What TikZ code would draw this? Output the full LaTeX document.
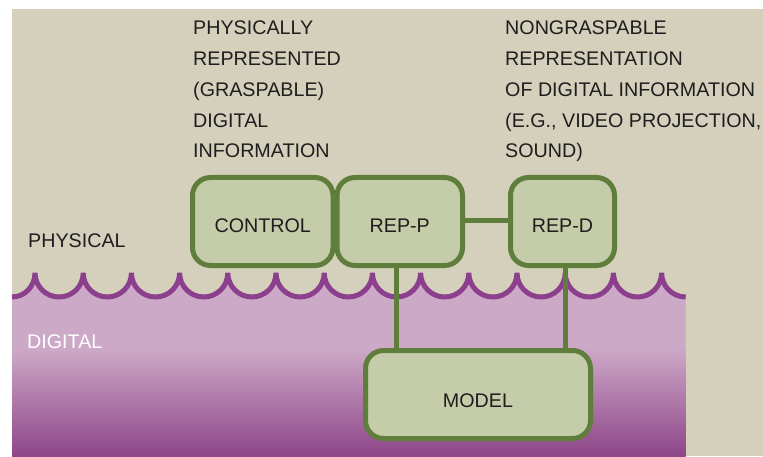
\documentclass[tikz,border=0pt]{standalone}
\usepackage{fontspec}
\setmainfont{Liberation Sans}

\definecolor{sand}{HTML}{D5D0BC}
\definecolor{sage}{HTML}{C5CCA9}
\definecolor{leaf}{HTML}{5F7D3B}
\definecolor{plum}{HTML}{8B3F8C}
\definecolor{ptop}{HTML}{CDA9C8}
\definecolor{pmid}{HTML}{B387AC}
\definecolor{pbot}{HTML}{8E4689}
\definecolor{ink}{HTML}{1E1E1E}

\begin{document}
\begin{tikzpicture}[x=1pt,y=1pt,
  lbl/.style={font=\fontsize{19.7}{30.75}\selectfont, text=ink, inner sep=0pt},
  block/.style={draw=leaf, fill=sage, line width=5pt, rounded corners=18pt,
    inner sep=0pt, minimum height=88pt, text=ink,
    font=\fontsize{19.7}{23}\selectfont, text height=21pt, text depth=0pt},
  link/.style={draw=leaf, line width=5pt},
  wave/.style={draw=plum, line width=5pt, line join=bevel},
  scallop/.style={start angle=180, end angle=270, radius=24.1},
  rise/.style={start angle=270, end angle=360, radius=24.1}]

% page and sand backdrop
\fill[white] (0,0) rectangle (763,456);
\useasboundingbox (0,0) rectangle (763,456);
\fill[sand] (12,0) rectangle (763,447);

% digital layer below the scalloped surface
\fill[ptop] (12,0) -- (12,159)
  arc[start angle=270, end angle=360, x radius=23, y radius=24.1]
  \foreach \k in {1,...,13}{ arc[scallop] arc[rise] }
  arc[scallop] -- (685.7,0) -- cycle;
\shade[bottom color=pbot, middle color=pmid, top color=ptop]
  (12,0) rectangle (685.7,108);

% scalloped boundary line
\draw[wave] (12,159)
  arc[start angle=270, end angle=360, x radius=23, y radius=24.1]
  \foreach \k in {1,...,13}{ arc[scallop] arc[rise] }
  arc[scallop];

% layer names
\node[lbl, anchor=base west] (physical) at (28,209) {PHYSICAL};
\node[lbl, anchor=base west, text=white] (digital) at (27,108) {DIGITAL};

% captions above the blocks
\node[lbl, anchor=north west, align=left] (graspable) at (193,435)
  {PHYSICALLY\\REPRESENTED\\(GRASPABLE)\\DIGITAL\\INFORMATION};
\node[lbl, anchor=north west, align=left] (nongraspable) at (505,435)
  {NONGRASPABLE\\REPRESENTATION\\OF DIGITAL INFORMATION\\(E.G., VIDEO PROJECTION,\\SOUND)};

% blocks
\node[block, minimum width=140.5pt] (control) at (262.75,234.5) {CONTROL};
\node[block, minimum width=125.5pt] (repp) at (399.75,234.5) {REP-P};
\node[block, minimum width=104pt] (repd) at (562.5,234.5) {REP-D};
\node[block, minimum width=225pt, text height=25pt] (model) at (478,61.5) {MODEL};

% connectors
\draw[link] ([yshift=1.5pt]repp.east) -- ([yshift=1.5pt]repd.west);
\draw[link] ([xshift=-3pt]repp.south) -- ([xshift=-3pt]repp.south |- model.north);
\draw[link] ([xshift=2.5pt]repd.south) -- ([xshift=2.5pt]repd.south |- model.north);
\end{tikzpicture}
\end{document}
